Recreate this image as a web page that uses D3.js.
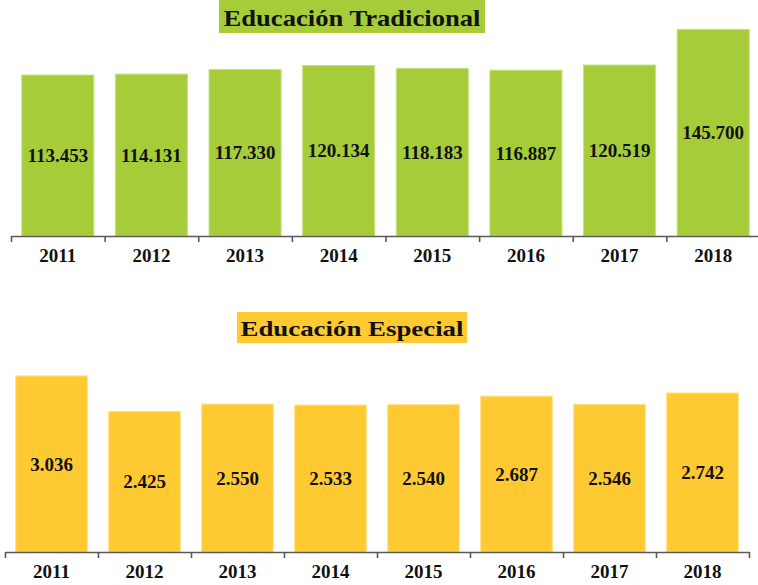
<!DOCTYPE html>
<html>
<head>
<meta charset="utf-8">
<script src="https://cdn.jsdelivr.net/npm/d3@7"></script>
<style>
  body { margin: 0; background: #fff; }
  svg { display: block; }
  text { font-family: "Liberation Serif", "Times New Roman", serif; font-weight: bold; fill: #111; }
  .axis path, .axis line { stroke: #595959; stroke-width: 1.6; }
</style>
</head>
<body>
<div id="chart"></div>
<script>
var years = ["2011", "2012", "2013", "2014", "2015", "2016", "2017", "2018"];
var tradicional = [113453, 114131, 117330, 120134, 118183, 116887, 120519, 145700];
var especial = [3036, 2425, 2550, 2533, 2540, 2687, 2546, 2742];
var titleTradicional = "Educación Tradicional";
var titleEspecial = "Educación Especial";

var width = 758, height = 585;
var fmt = function(v) { return d3.format(",")(v).replace(/,/g, "."); };

var svg = d3.select("#chart").append("svg")
    .attr("width", width)
    .attr("height", height);

function panel(opts) {
    var g = svg.append("g");

    var x = d3.scaleBand()
        .domain(years)
        .range(opts.xRange)
        .paddingInner(0.23)
        .paddingOuter(0.115);

    var y = d3.scaleLinear()
        .domain([0, opts.yMax])
        .range([opts.base, opts.top]);

    // tick marks sit at the band edges
    var edges = d3.scaleLinear().domain([0, years.length]).range(opts.xRange);

    g.selectAll(".bar")
        .data(opts.values)
        .enter().append("rect")
        .attr("class", "bar")
        .attr("x", function(d, i) { return x(years[i]); })
        .attr("y", function(d) { return y(d); })
        .attr("width", x.bandwidth())
        .attr("height", function(d) { return opts.base - y(d); })
        .style("fill", opts.color)
        .style("stroke", opts.edge)
        .style("stroke-width", 1);

    g.selectAll(".val")
        .data(opts.values)
        .enter().append("text")
        .attr("class", "val")
        .attr("x", function(d, i) { return x(years[i]) + x.bandwidth() / 2; })
        .attr("y", function(d) { return (y(d) + opts.base) / 2; })
        .attr("dy", "0.35em")
        .attr("text-anchor", "middle")
        .style("font-size", "19px")
        .text(fmt);

    g.append("g")
        .attr("class", "axis")
        .attr("transform", "translate(0," + opts.base + ")")
        .call(d3.axisBottom(edges)
            .tickValues(d3.range(years.length + 1))
            .tickFormat("")
            .tickSize(6)
            .tickSizeOuter(0));

    g.selectAll(".year")
        .data(years)
        .enter().append("text")
        .attr("class", "year")
        .attr("x", function(d) { return x(d) + x.bandwidth() / 2; })
        .attr("y", opts.base + 26)
        .attr("text-anchor", "middle")
        .style("font-size", "19px")
        .text(function(d) { return d; });

    // title with coloured box
    g.append("rect")
        .attr("x", opts.titleBox[0])
        .attr("y", opts.titleBox[1])
        .attr("width", opts.titleBox[2])
        .attr("height", opts.titleBox[3])
        .style("fill", opts.color);

    g.append("text")
        .attr("x", opts.titleBox[0] + opts.titleBox[2] / 2)
        .attr("y", opts.titleBaseline)
        .attr("text-anchor", "middle")
        .attr("textLength", opts.titleLen)
        .attr("lengthAdjust", "spacingAndGlyphs")
        .style("font-size", opts.titleSize + "px")
        .text(opts.title);
}

panel({
    values: tradicional, title: titleTradicional,
    color: "#a6cd39", edge: "#c9e184",
    xRange: [11, 760], base: 236, top: 9, yMax: 160000,
    titleBox: [219, -2, 266, 35], titleBaseline: 26, titleLen: 257, titleSize: 23
});

panel({
    values: especial, title: titleEspecial,
    color: "#ffca31", edge: "#ffe08a",
    xRange: [5, 749], base: 552, top: 349, yMax: 3500,
    titleBox: [237, 312, 230, 31], titleBaseline: 336, titleLen: 223, titleSize: 22
});
</script>
</body>
</html>
